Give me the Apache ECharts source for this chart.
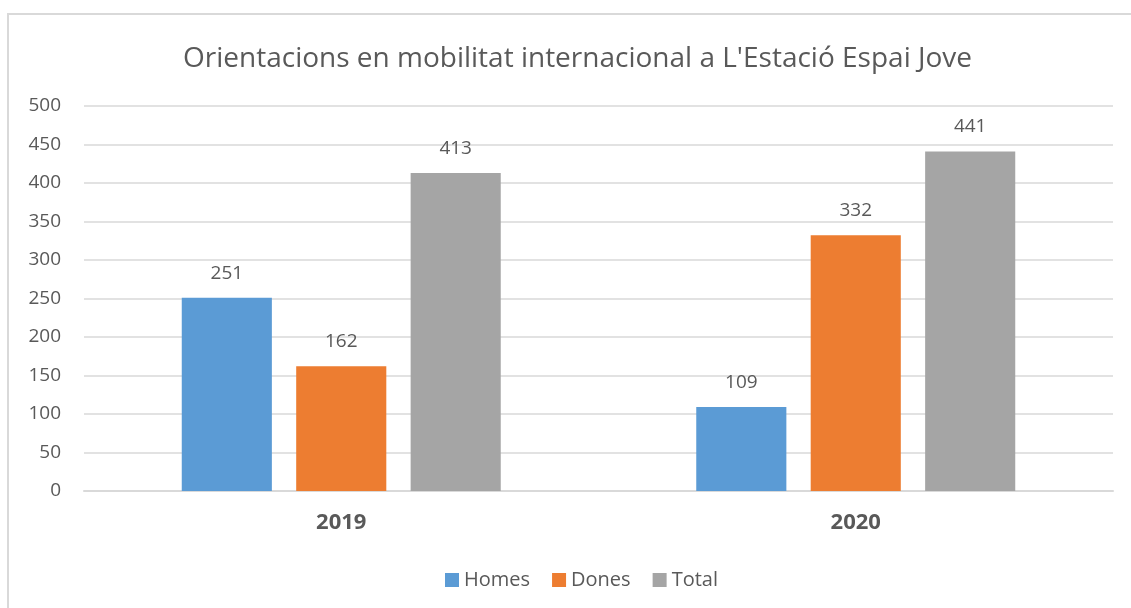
<!DOCTYPE html>
<html>
<head>
<meta charset="utf-8">
<script src="https://cdn.jsdelivr.net/npm/echarts@6/dist/echarts.min.js"></script>
<style>
  html, body { margin: 0; padding: 0; background: #fff; }
  #container { width: 1131px; height: 608px; }
</style>
</head>
<body>
<div id="container"></div>
<script>
let years = ['2019', '2020'];
let homes = [251, 109];
let dones = [162, 332];
let total = [413, 441];
let yTicks = {min: 0, max: 500, interval: 50};

let font = '"Open Sans", "Noto Sans", sans-serif';
let textColor = '#595959';

let labelStyle = {
    show: true,
    position: 'top',
    distance: 15,
    color: textColor,
    fontSize: 19,
    fontFamily: font
};

let chart = echarts.init(document.getElementById('container'));
chart.setOption({
    animation: false,
    title: {
        text: "Orientacions en mobilitat internacional a L'Estació Espai Jove",
        left: 178,
        top: 40,
        textStyle: {
            color: textColor,
            fontSize: 28,
            fontWeight: 'normal',
            fontFamily: font
        }
    },
    graphic: [{
        type: 'rect',
        shape: {x: 8, y: 14, width: 1200, height: 700},
        style: {fill: 'none', stroke: '#D9D9D9', lineWidth: 2},
        silent: true
    }],
    legend: {
        bottom: 13,
        left: 440,
        itemWidth: 14,
        itemHeight: 14,
        itemGap: 22,
        icon: 'rect',
        textStyle: {color: textColor, fontSize: 20, fontFamily: font},
        data: ['Homes', 'Dones', 'Total']
    },
    grid: {left: 84, right: 18, top: 106, bottom: 117, containLabel: false},
    xAxis: {
        type: 'category',
        data: years,
        axisLine: {lineStyle: {color: '#D9D9D9', width: 2}},
        axisTick: {show: false},
        axisLabel: {
            color: textColor,
            fontSize: 22,
            fontWeight: 'bold',
            fontFamily: font,
            margin: 21
        }
    },
    yAxis: {
        type: 'value',
        min: yTicks.min,
        max: yTicks.max,
        interval: yTicks.interval,
        axisLine: {show: false},
        axisTick: {show: false},
        axisLabel: {
            color: textColor,
            fontSize: 19,
            fontFamily: font,
            margin: 23
        },
        splitLine: {lineStyle: {color: '#D9D9D9', width: 1.5}}
    },
    series: [{
        name: 'Homes',
        type: 'bar',
        data: homes,
        barGap: '27%',
        barCategoryGap: '38%',
        itemStyle: {color: '#5B9BD5'},
        label: labelStyle
    }, {
        name: 'Dones',
        type: 'bar',
        data: dones,
        itemStyle: {color: '#ED7D31'},
        label: labelStyle
    }, {
        name: 'Total',
        type: 'bar',
        data: total,
        itemStyle: {color: '#A5A5A5'},
        label: labelStyle
    }]
});
</script>
</body>
</html>
